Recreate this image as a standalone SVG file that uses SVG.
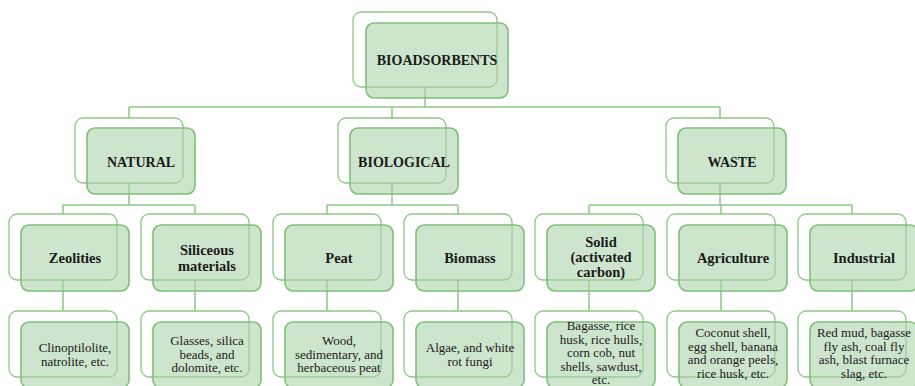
<svg xmlns="http://www.w3.org/2000/svg" width="915" height="386" viewBox="0 0 915 386">
<style>
.back{fill:#ffffff;stroke:#8cc884;stroke-width:1.3}
.front{fill:#a6cfa4;fill-opacity:0.55;stroke:#7fc077;stroke-width:1.6}
.conn{stroke:#8cc785;stroke-width:1.5;fill:none}
.h{font-family:"Liberation Serif","Times New Roman",serif;font-weight:bold;font-size:14px;fill:#1a1a1a;text-anchor:middle}
.h3{font-size:14.5px}
.t{font-family:"Liberation Serif","Times New Roman",serif;font-size:13px;fill:#1a1a1a;text-anchor:middle}
</style>
<rect width="915" height="386" fill="#ffffff"/>
<g id="connectors" class="conn">
<path d="M425 87V107M129 107H720M129 107V118M392 107V118M720 107V118"/>
<path d="M129 183V205M63 205H195M63 205V214M195 205V214"/>
<path d="M392 183V205M327 205H458M327 205V214M458 205V214"/>
<path d="M720 183V205M589 205H852M589 205V214M721 205V214M852 205V214"/>
<path d="M63 280V311M195 280V311M327 280V311M458 280V311M589 280V311M721 280V311M852 280V311"/>
</g>
<g id="bioadsorbents"><rect class="back" x="353" y="12" width="144" height="75" rx="8"/><rect class="front" x="366" y="23" width="142" height="75" rx="8"/><text class="h" x="437" y="65">BIOADSORBENTS</text></g>
<g id="natural"><rect class="back" x="75" y="118" width="108" height="65" rx="8"/><rect class="front" x="87" y="128" width="108" height="66" rx="8"/><text class="h" x="141" y="167">NATURAL</text></g>
<g id="biological"><rect class="back" x="338" y="118" width="108" height="65" rx="8"/><rect class="front" x="350" y="128" width="108" height="66" rx="8"/><text class="h" x="404" y="167">BIOLOGICAL</text></g>
<g id="waste"><rect class="back" x="666" y="118" width="108" height="65" rx="8"/><rect class="front" x="678" y="128" width="108" height="66" rx="8"/><text class="h" x="732" y="167">WASTE</text></g>
<g id="zeolities"><rect class="back" x="9" y="214" width="108" height="66" rx="8"/><rect class="front" x="21" y="225" width="108" height="66" rx="8"/><text class="h h3" x="75" y="263">Zeolities</text></g>
<g id="siliceous"><rect class="back" x="141" y="214" width="108" height="66" rx="8"/><rect class="front" x="153" y="225" width="108" height="66" rx="8"/><text class="h h3" x="207" y="255">Siliceous</text><text class="h h3" x="207" y="271">materials</text></g>
<g id="peat"><rect class="back" x="273" y="214" width="108" height="66" rx="8"/><rect class="front" x="285" y="225" width="108" height="66" rx="8"/><text class="h h3" x="339" y="263">Peat</text></g>
<g id="biomass"><rect class="back" x="404" y="214" width="108" height="66" rx="8"/><rect class="front" x="416" y="225" width="108" height="66" rx="8"/><text class="h h3" x="470" y="263">Biomass</text></g>
<g id="solid"><rect class="back" x="535" y="214" width="108" height="66" rx="8"/><rect class="front" x="547" y="225" width="108" height="66" rx="8"/><text class="h h3" x="601" y="247">Solid</text><text class="h h3" x="601" y="262">(activated</text><text class="h h3" x="601" y="277">carbon)</text></g>
<g id="agriculture"><rect class="back" x="667" y="214" width="108" height="66" rx="8"/><rect class="front" x="679" y="225" width="108" height="66" rx="8"/><text class="h h3" x="733" y="263">Agriculture</text></g>
<g id="industrial"><rect class="back" x="798" y="214" width="108" height="66" rx="8"/><rect class="front" x="810" y="225" width="108" height="66" rx="8"/><text class="h h3" x="864" y="263">Industrial</text></g>
<g id="zeolities-ex"><rect class="back" x="9" y="311" width="108" height="66" rx="8"/><rect class="front" x="21" y="322" width="108" height="66" rx="8"/><text class="t" x="75" y="352">Clinoptilolite,</text><text class="t" x="75" y="365.5">natrolite, etc.</text></g>
<g id="siliceous-ex"><rect class="back" x="141" y="311" width="108" height="66" rx="8"/><rect class="front" x="153" y="322" width="108" height="66" rx="8"/><text class="t" x="207" y="345">Glasses, silica</text><text class="t" x="207" y="358.5">beads, and</text><text class="t" x="207" y="372">dolomite, etc.</text></g>
<g id="peat-ex"><rect class="back" x="273" y="311" width="108" height="66" rx="8"/><rect class="front" x="285" y="322" width="108" height="66" rx="8"/><text class="t" x="339" y="345">Wood,</text><text class="t" x="339" y="358.5">sedimentary, and</text><text class="t" x="339" y="372">herbaceous peat</text></g>
<g id="biomass-ex"><rect class="back" x="404" y="311" width="108" height="66" rx="8"/><rect class="front" x="416" y="322" width="108" height="66" rx="8"/><text class="t" x="470" y="352">Algae, and white</text><text class="t" x="470" y="365.5">rot fungi</text></g>
<g id="solid-ex"><rect class="back" x="535" y="311" width="108" height="66" rx="8"/><rect class="front" x="547" y="322" width="108" height="66" rx="8"/><text class="t" x="601" y="330">Bagasse, rice</text><text class="t" x="601" y="343.5">husk,  rice hulls,</text><text class="t" x="601" y="357">corn cob, nut</text><text class="t" x="601" y="370.5">shells, sawdust,</text><text class="t" x="601" y="384">etc.</text></g>
<g id="agriculture-ex"><rect class="back" x="667" y="311" width="108" height="66" rx="8"/><rect class="front" x="679" y="322" width="108" height="66" rx="8"/><text class="t" x="733" y="337">Coconut shell,</text><text class="t" x="733" y="350.5">egg shell, banana</text><text class="t" x="733" y="364">and orange peels,</text><text class="t" x="733" y="377.5">rice husk, etc.</text></g>
<g id="industrial-ex"><rect class="back" x="798" y="311" width="108" height="66" rx="8"/><rect class="front" x="810" y="322" width="108" height="66" rx="8"/><text class="t" x="864" y="337">Red mud, bagasse</text><text class="t" x="864" y="350.5">fly ash, coal fly</text><text class="t" x="864" y="364">ash, blast furnace</text><text class="t" x="864" y="377.5">slag, etc.</text></g>
</svg>
